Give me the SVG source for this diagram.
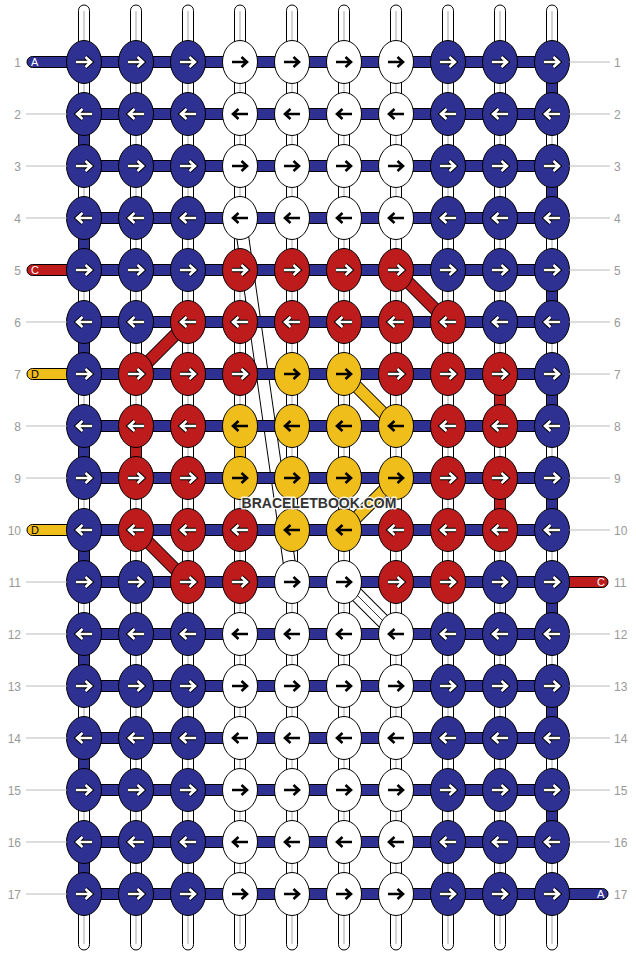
<svg xmlns="http://www.w3.org/2000/svg" xmlns:xlink="http://www.w3.org/1999/xlink" width="636" height="956" viewBox="0 0 636 956">
<style>
.kb{fill:#2e3192;stroke:#000;stroke-width:1}
.kr{fill:#bd1b1c;stroke:#000;stroke-width:1}
.ky{fill:#f0be1a;stroke:#000;stroke-width:1}
.kw{fill:#fff;stroke:#000;stroke-width:1}
.ao{fill:none;stroke:#000;stroke-width:4.6}
.aw{fill:none;stroke:#fff;stroke-width:2.6}
.ab{fill:none;stroke:#000;stroke-width:2.6}
.vs{fill:#fff;stroke:#000;stroke-width:1}
.vc{stroke:#c4c4c4;stroke-width:1.5}
.sb{fill:#2e3192;stroke:#000;stroke-width:1}
.sr{fill:#bd1b1c;stroke:#000;stroke-width:1}
.sy{fill:#f0be1a;stroke:#000;stroke-width:1}
.gl{stroke:#bbb;stroke-width:1}
.num{font-family:"Liberation Sans",Arial,sans-serif;font-size:12px;fill:#999}
.let{font-family:"Liberation Sans",Arial,sans-serif;font-size:11px}
</style>
<defs>
<path id="aR" d="M-8,0H6.5M1.5,-5L7,0L1.5,5"/>
<path id="aL" d="M8,0H-6.5M-1.5,-5L-7,0L-1.5,5"/>
<g id="BR"><ellipse rx="17.5" ry="21.5" class="kb"/><use href="#aR" class="ao"/><use href="#aR" class="aw"/></g>
<g id="BL"><ellipse rx="17.5" ry="21.5" class="kb"/><use href="#aL" class="ao"/><use href="#aL" class="aw"/></g>
<g id="RR"><ellipse rx="17.5" ry="21.5" class="kr"/><use href="#aR" class="ao"/><use href="#aR" class="aw"/></g>
<g id="RL"><ellipse rx="17.5" ry="21.5" class="kr"/><use href="#aL" class="ao"/><use href="#aL" class="aw"/></g>
<g id="YR"><ellipse rx="17.5" ry="21.5" class="ky"/><use href="#aR" class="ab"/></g>
<g id="YL"><ellipse rx="17.5" ry="21.5" class="ky"/><use href="#aL" class="ab"/></g>
<g id="WR"><ellipse rx="17.5" ry="21.5" class="kw"/><use href="#aR" class="ab"/></g>
<g id="WL"><ellipse rx="17.5" ry="21.5" class="kw"/><use href="#aL" class="ab"/></g>
</defs>
<rect width="636" height="956" fill="#fff"/>
<g id="connectors">
<g id="vertical-strands">
<rect x="78.5" y="5" width="11" height="945" rx="5.5" class="vs"/><line x1="84" y1="11" x2="84" y2="944" class="vc"/>
<rect x="130.5" y="5" width="11" height="945" rx="5.5" class="vs"/><line x1="136" y1="11" x2="136" y2="944" class="vc"/>
<rect x="182.5" y="5" width="11" height="945" rx="5.5" class="vs"/><line x1="188" y1="11" x2="188" y2="944" class="vc"/>
<rect x="234.5" y="5" width="11" height="945" rx="5.5" class="vs"/><line x1="240" y1="11" x2="240" y2="944" class="vc"/>
<rect x="286.5" y="5" width="11" height="945" rx="5.5" class="vs"/><line x1="292" y1="11" x2="292" y2="944" class="vc"/>
<rect x="338.5" y="5" width="11" height="945" rx="5.5" class="vs"/><line x1="344" y1="11" x2="344" y2="944" class="vc"/>
<rect x="390.5" y="5" width="11" height="945" rx="5.5" class="vs"/><line x1="396" y1="11" x2="396" y2="944" class="vc"/>
<rect x="442.5" y="5" width="11" height="945" rx="5.5" class="vs"/><line x1="448" y1="11" x2="448" y2="944" class="vc"/>
<rect x="494.5" y="5" width="11" height="945" rx="5.5" class="vs"/><line x1="500" y1="11" x2="500" y2="944" class="vc"/>
<rect x="546.5" y="5" width="11" height="945" rx="5.5" class="vs"/><line x1="552" y1="11" x2="552" y2="944" class="vc"/>
</g>
<g id="vertical-colored">
<rect x="78.5" y="126" width="11" height="28" class="sb"/>
<rect x="78.5" y="230" width="11" height="28" class="sb"/>
<rect x="78.5" y="334" width="11" height="28" class="sb"/>
<rect x="78.5" y="438" width="11" height="28" class="sb"/>
<rect x="78.5" y="542" width="11" height="28" class="sb"/>
<rect x="78.5" y="646" width="11" height="28" class="sb"/>
<rect x="78.5" y="750" width="11" height="28" class="sb"/>
<rect x="78.5" y="854" width="11" height="28" class="sb"/>
<rect x="546.5" y="74" width="11" height="28" class="sb"/>
<rect x="546.5" y="178" width="11" height="28" class="sb"/>
<rect x="546.5" y="282" width="11" height="28" class="sb"/>
<rect x="546.5" y="386" width="11" height="28" class="sb"/>
<rect x="546.5" y="490" width="11" height="28" class="sb"/>
<rect x="546.5" y="594" width="11" height="28" class="sb"/>
<rect x="546.5" y="698" width="11" height="28" class="sb"/>
<rect x="546.5" y="802" width="11" height="28" class="sb"/>
<rect x="130.5" y="438" width="11" height="28" class="sr"/>
<rect x="494.5" y="386" width="11" height="28" class="sr"/>
<rect x="494.5" y="490" width="11" height="28" class="sr"/>
<rect x="234.5" y="438" width="11" height="28" class="sy"/>
</g>
<g id="diagonals">
<line x1="240" y1="218" x2="292" y2="582" stroke="#000" stroke-width="13"/>
<line x1="240" y1="218" x2="292" y2="582" stroke="#fff" stroke-width="11"/>
<line x1="344" y1="582" x2="396" y2="634" stroke="#000" stroke-width="15"/>
<line x1="344" y1="582" x2="396" y2="634" stroke="#fff" stroke-width="13"/>
<line x1="344" y1="582" x2="396" y2="634" stroke="#000" stroke-width="0.8"/>
<line x1="396" y1="270" x2="448" y2="322" stroke="#000" stroke-width="13"/>
<line x1="396" y1="270" x2="448" y2="322" stroke="#bd1b1c" stroke-width="11"/>
<line x1="188" y1="322" x2="136" y2="374" stroke="#000" stroke-width="13"/>
<line x1="188" y1="322" x2="136" y2="374" stroke="#bd1b1c" stroke-width="11"/>
<line x1="136" y1="530" x2="188" y2="582" stroke="#000" stroke-width="13"/>
<line x1="136" y1="530" x2="188" y2="582" stroke="#bd1b1c" stroke-width="11"/>
<line x1="344" y1="374" x2="396" y2="426" stroke="#000" stroke-width="13"/>
<line x1="344" y1="374" x2="396" y2="426" stroke="#f0be1a" stroke-width="11"/>
<line x1="396" y1="478" x2="344" y2="530" stroke="#000" stroke-width="13"/>
<line x1="396" y1="478" x2="344" y2="530" stroke="#f0be1a" stroke-width="11"/>
</g>
<g id="horizontal-strands">
<rect x="27" y="56.5" width="62" height="11" rx="5.5" class="sb"/>
<rect x="27" y="264.5" width="62" height="11" rx="5.5" class="sr"/>
<rect x="27" y="368.5" width="62" height="11" rx="5.5" class="sy"/>
<rect x="27" y="524.5" width="62" height="11" rx="5.5" class="sy"/>
<rect x="547" y="576.5" width="61" height="11" rx="5.5" class="sr"/>
<rect x="547" y="888.5" width="61" height="11" rx="5.5" class="sb"/>
<rect x="84" y="56.5" width="468" height="11" class="sb"/>
<rect x="84" y="108.5" width="468" height="11" class="sb"/>
<rect x="84" y="160.5" width="468" height="11" class="sb"/>
<rect x="84" y="212.5" width="468" height="11" class="sb"/>
<rect x="84" y="264.5" width="468" height="11" class="sb"/>
<rect x="84" y="316.5" width="468" height="11" class="sb"/>
<rect x="84" y="368.5" width="468" height="11" class="sb"/>
<rect x="84" y="420.5" width="468" height="11" class="sb"/>
<rect x="84" y="472.5" width="468" height="11" class="sb"/>
<rect x="84" y="524.5" width="468" height="11" class="sb"/>
<rect x="84" y="576.5" width="468" height="11" class="sb"/>
<rect x="84" y="628.5" width="468" height="11" class="sb"/>
<rect x="84" y="680.5" width="468" height="11" class="sb"/>
<rect x="84" y="732.5" width="468" height="11" class="sb"/>
<rect x="84" y="784.5" width="468" height="11" class="sb"/>
<rect x="84" y="836.5" width="468" height="11" class="sb"/>
<rect x="84" y="888.5" width="468" height="11" class="sb"/>
</g>
</g>
<g id="knots">
<g id="k1-1"><use href="#BR" x="84" y="62"/></g><g id="k1-2"><use href="#BR" x="136" y="62"/></g><g id="k1-3"><use href="#BR" x="188" y="62"/></g><g id="k1-4"><use href="#WR" x="240" y="62"/></g><g id="k1-5"><use href="#WR" x="292" y="62"/></g><g id="k1-6"><use href="#WR" x="344" y="62"/></g><g id="k1-7"><use href="#WR" x="396" y="62"/></g><g id="k1-8"><use href="#BR" x="448" y="62"/></g><g id="k1-9"><use href="#BR" x="500" y="62"/></g><g id="k1-10"><use href="#BR" x="552" y="62"/></g>
<g id="k2-1"><use href="#BL" x="84" y="114"/></g><g id="k2-2"><use href="#BL" x="136" y="114"/></g><g id="k2-3"><use href="#BL" x="188" y="114"/></g><g id="k2-4"><use href="#WL" x="240" y="114"/></g><g id="k2-5"><use href="#WL" x="292" y="114"/></g><g id="k2-6"><use href="#WL" x="344" y="114"/></g><g id="k2-7"><use href="#WL" x="396" y="114"/></g><g id="k2-8"><use href="#BL" x="448" y="114"/></g><g id="k2-9"><use href="#BL" x="500" y="114"/></g><g id="k2-10"><use href="#BL" x="552" y="114"/></g>
<g id="k3-1"><use href="#BR" x="84" y="166"/></g><g id="k3-2"><use href="#BR" x="136" y="166"/></g><g id="k3-3"><use href="#BR" x="188" y="166"/></g><g id="k3-4"><use href="#WR" x="240" y="166"/></g><g id="k3-5"><use href="#WR" x="292" y="166"/></g><g id="k3-6"><use href="#WR" x="344" y="166"/></g><g id="k3-7"><use href="#WR" x="396" y="166"/></g><g id="k3-8"><use href="#BR" x="448" y="166"/></g><g id="k3-9"><use href="#BR" x="500" y="166"/></g><g id="k3-10"><use href="#BR" x="552" y="166"/></g>
<g id="k4-1"><use href="#BL" x="84" y="218"/></g><g id="k4-2"><use href="#BL" x="136" y="218"/></g><g id="k4-3"><use href="#BL" x="188" y="218"/></g><g id="k4-4"><use href="#WL" x="240" y="218"/></g><g id="k4-5"><use href="#WL" x="292" y="218"/></g><g id="k4-6"><use href="#WL" x="344" y="218"/></g><g id="k4-7"><use href="#WL" x="396" y="218"/></g><g id="k4-8"><use href="#BL" x="448" y="218"/></g><g id="k4-9"><use href="#BL" x="500" y="218"/></g><g id="k4-10"><use href="#BL" x="552" y="218"/></g>
<g id="k5-1"><use href="#BR" x="84" y="270"/></g><g id="k5-2"><use href="#BR" x="136" y="270"/></g><g id="k5-3"><use href="#BR" x="188" y="270"/></g><g id="k5-4"><use href="#RR" x="240" y="270"/></g><g id="k5-5"><use href="#RR" x="292" y="270"/></g><g id="k5-6"><use href="#RR" x="344" y="270"/></g><g id="k5-7"><use href="#RR" x="396" y="270"/></g><g id="k5-8"><use href="#BR" x="448" y="270"/></g><g id="k5-9"><use href="#BR" x="500" y="270"/></g><g id="k5-10"><use href="#BR" x="552" y="270"/></g>
<g id="k6-1"><use href="#BL" x="84" y="322"/></g><g id="k6-2"><use href="#BL" x="136" y="322"/></g><g id="k6-3"><use href="#RL" x="188" y="322"/></g><g id="k6-4"><use href="#RL" x="240" y="322"/></g><g id="k6-5"><use href="#RL" x="292" y="322"/></g><g id="k6-6"><use href="#RL" x="344" y="322"/></g><g id="k6-7"><use href="#RL" x="396" y="322"/></g><g id="k6-8"><use href="#RL" x="448" y="322"/></g><g id="k6-9"><use href="#BL" x="500" y="322"/></g><g id="k6-10"><use href="#BL" x="552" y="322"/></g>
<g id="k7-1"><use href="#BR" x="84" y="374"/></g><g id="k7-2"><use href="#RR" x="136" y="374"/></g><g id="k7-3"><use href="#RR" x="188" y="374"/></g><g id="k7-4"><use href="#RR" x="240" y="374"/></g><g id="k7-5"><use href="#YR" x="292" y="374"/></g><g id="k7-6"><use href="#YR" x="344" y="374"/></g><g id="k7-7"><use href="#RR" x="396" y="374"/></g><g id="k7-8"><use href="#RR" x="448" y="374"/></g><g id="k7-9"><use href="#RR" x="500" y="374"/></g><g id="k7-10"><use href="#BR" x="552" y="374"/></g>
<g id="k8-1"><use href="#BL" x="84" y="426"/></g><g id="k8-2"><use href="#RL" x="136" y="426"/></g><g id="k8-3"><use href="#RL" x="188" y="426"/></g><g id="k8-4"><use href="#YL" x="240" y="426"/></g><g id="k8-5"><use href="#YL" x="292" y="426"/></g><g id="k8-6"><use href="#YL" x="344" y="426"/></g><g id="k8-7"><use href="#YL" x="396" y="426"/></g><g id="k8-8"><use href="#RL" x="448" y="426"/></g><g id="k8-9"><use href="#RL" x="500" y="426"/></g><g id="k8-10"><use href="#BL" x="552" y="426"/></g>
<g id="k9-1"><use href="#BR" x="84" y="478"/></g><g id="k9-2"><use href="#RR" x="136" y="478"/></g><g id="k9-3"><use href="#RR" x="188" y="478"/></g><g id="k9-4"><use href="#YR" x="240" y="478"/></g><g id="k9-5"><use href="#YR" x="292" y="478"/></g><g id="k9-6"><use href="#YR" x="344" y="478"/></g><g id="k9-7"><use href="#YR" x="396" y="478"/></g><g id="k9-8"><use href="#RR" x="448" y="478"/></g><g id="k9-9"><use href="#RR" x="500" y="478"/></g><g id="k9-10"><use href="#BR" x="552" y="478"/></g>
<g id="k10-1"><use href="#BL" x="84" y="530"/></g><g id="k10-2"><use href="#RL" x="136" y="530"/></g><g id="k10-3"><use href="#RL" x="188" y="530"/></g><g id="k10-4"><use href="#RL" x="240" y="530"/></g><g id="k10-5"><use href="#YL" x="292" y="530"/></g><g id="k10-6"><use href="#YL" x="344" y="530"/></g><g id="k10-7"><use href="#RL" x="396" y="530"/></g><g id="k10-8"><use href="#RL" x="448" y="530"/></g><g id="k10-9"><use href="#RL" x="500" y="530"/></g><g id="k10-10"><use href="#BL" x="552" y="530"/></g>
<g id="k11-1"><use href="#BR" x="84" y="582"/></g><g id="k11-2"><use href="#BR" x="136" y="582"/></g><g id="k11-3"><use href="#RR" x="188" y="582"/></g><g id="k11-4"><use href="#RR" x="240" y="582"/></g><g id="k11-5"><use href="#WR" x="292" y="582"/></g><g id="k11-6"><use href="#WR" x="344" y="582"/></g><g id="k11-7"><use href="#RR" x="396" y="582"/></g><g id="k11-8"><use href="#RR" x="448" y="582"/></g><g id="k11-9"><use href="#BR" x="500" y="582"/></g><g id="k11-10"><use href="#BR" x="552" y="582"/></g>
<g id="k12-1"><use href="#BL" x="84" y="634"/></g><g id="k12-2"><use href="#BL" x="136" y="634"/></g><g id="k12-3"><use href="#BL" x="188" y="634"/></g><g id="k12-4"><use href="#WL" x="240" y="634"/></g><g id="k12-5"><use href="#WL" x="292" y="634"/></g><g id="k12-6"><use href="#WL" x="344" y="634"/></g><g id="k12-7"><use href="#WL" x="396" y="634"/></g><g id="k12-8"><use href="#BL" x="448" y="634"/></g><g id="k12-9"><use href="#BL" x="500" y="634"/></g><g id="k12-10"><use href="#BL" x="552" y="634"/></g>
<g id="k13-1"><use href="#BR" x="84" y="686"/></g><g id="k13-2"><use href="#BR" x="136" y="686"/></g><g id="k13-3"><use href="#BR" x="188" y="686"/></g><g id="k13-4"><use href="#WR" x="240" y="686"/></g><g id="k13-5"><use href="#WR" x="292" y="686"/></g><g id="k13-6"><use href="#WR" x="344" y="686"/></g><g id="k13-7"><use href="#WR" x="396" y="686"/></g><g id="k13-8"><use href="#BR" x="448" y="686"/></g><g id="k13-9"><use href="#BR" x="500" y="686"/></g><g id="k13-10"><use href="#BR" x="552" y="686"/></g>
<g id="k14-1"><use href="#BL" x="84" y="738"/></g><g id="k14-2"><use href="#BL" x="136" y="738"/></g><g id="k14-3"><use href="#BL" x="188" y="738"/></g><g id="k14-4"><use href="#WL" x="240" y="738"/></g><g id="k14-5"><use href="#WL" x="292" y="738"/></g><g id="k14-6"><use href="#WL" x="344" y="738"/></g><g id="k14-7"><use href="#WL" x="396" y="738"/></g><g id="k14-8"><use href="#BL" x="448" y="738"/></g><g id="k14-9"><use href="#BL" x="500" y="738"/></g><g id="k14-10"><use href="#BL" x="552" y="738"/></g>
<g id="k15-1"><use href="#BR" x="84" y="790"/></g><g id="k15-2"><use href="#BR" x="136" y="790"/></g><g id="k15-3"><use href="#BR" x="188" y="790"/></g><g id="k15-4"><use href="#WR" x="240" y="790"/></g><g id="k15-5"><use href="#WR" x="292" y="790"/></g><g id="k15-6"><use href="#WR" x="344" y="790"/></g><g id="k15-7"><use href="#WR" x="396" y="790"/></g><g id="k15-8"><use href="#BR" x="448" y="790"/></g><g id="k15-9"><use href="#BR" x="500" y="790"/></g><g id="k15-10"><use href="#BR" x="552" y="790"/></g>
<g id="k16-1"><use href="#BL" x="84" y="842"/></g><g id="k16-2"><use href="#BL" x="136" y="842"/></g><g id="k16-3"><use href="#BL" x="188" y="842"/></g><g id="k16-4"><use href="#WL" x="240" y="842"/></g><g id="k16-5"><use href="#WL" x="292" y="842"/></g><g id="k16-6"><use href="#WL" x="344" y="842"/></g><g id="k16-7"><use href="#WL" x="396" y="842"/></g><g id="k16-8"><use href="#BL" x="448" y="842"/></g><g id="k16-9"><use href="#BL" x="500" y="842"/></g><g id="k16-10"><use href="#BL" x="552" y="842"/></g>
<g id="k17-1"><use href="#BR" x="84" y="894"/></g><g id="k17-2"><use href="#BR" x="136" y="894"/></g><g id="k17-3"><use href="#BR" x="188" y="894"/></g><g id="k17-4"><use href="#WR" x="240" y="894"/></g><g id="k17-5"><use href="#WR" x="292" y="894"/></g><g id="k17-6"><use href="#WR" x="344" y="894"/></g><g id="k17-7"><use href="#WR" x="396" y="894"/></g><g id="k17-8"><use href="#BR" x="448" y="894"/></g><g id="k17-9"><use href="#BR" x="500" y="894"/></g><g id="k17-10"><use href="#BR" x="552" y="894"/></g>
</g>
<g id="row-guides">
<line x1="26" y1="114" x2="67" y2="114" class="gl"/><line x1="26" y1="166" x2="67" y2="166" class="gl"/><line x1="26" y1="218" x2="67" y2="218" class="gl"/><line x1="26" y1="322" x2="67" y2="322" class="gl"/><line x1="26" y1="426" x2="67" y2="426" class="gl"/><line x1="26" y1="478" x2="67" y2="478" class="gl"/><line x1="26" y1="582" x2="67" y2="582" class="gl"/><line x1="26" y1="634" x2="67" y2="634" class="gl"/><line x1="26" y1="686" x2="67" y2="686" class="gl"/><line x1="26" y1="738" x2="67" y2="738" class="gl"/><line x1="26" y1="790" x2="67" y2="790" class="gl"/><line x1="26" y1="842" x2="67" y2="842" class="gl"/><line x1="26" y1="894" x2="67" y2="894" class="gl"/>
<line x1="569" y1="62" x2="610" y2="62" class="gl"/><line x1="569" y1="114" x2="610" y2="114" class="gl"/><line x1="569" y1="166" x2="610" y2="166" class="gl"/><line x1="569" y1="218" x2="610" y2="218" class="gl"/><line x1="569" y1="270" x2="610" y2="270" class="gl"/><line x1="569" y1="322" x2="610" y2="322" class="gl"/><line x1="569" y1="374" x2="610" y2="374" class="gl"/><line x1="569" y1="426" x2="610" y2="426" class="gl"/><line x1="569" y1="478" x2="610" y2="478" class="gl"/><line x1="569" y1="530" x2="610" y2="530" class="gl"/><line x1="569" y1="634" x2="610" y2="634" class="gl"/><line x1="569" y1="686" x2="610" y2="686" class="gl"/><line x1="569" y1="738" x2="610" y2="738" class="gl"/><line x1="569" y1="790" x2="610" y2="790" class="gl"/><line x1="569" y1="842" x2="610" y2="842" class="gl"/>
</g>
<g id="row-numbers-left" class="num" text-anchor="end">
<text x="21" y="66.5">1</text><text x="21" y="118.5">2</text><text x="21" y="170.5">3</text><text x="21" y="222.5">4</text><text x="21" y="274.5">5</text><text x="21" y="326.5">6</text><text x="21" y="378.5">7</text><text x="21" y="430.5">8</text><text x="21" y="482.5">9</text><text x="21" y="534.5">10</text><text x="21" y="586.5">11</text><text x="21" y="638.5">12</text><text x="21" y="690.5">13</text><text x="21" y="742.5">14</text><text x="21" y="794.5">15</text><text x="21" y="846.5">16</text><text x="21" y="898.5">17</text>
</g>
<g id="row-numbers-right" class="num">
<text x="614" y="66.5">1</text><text x="614" y="118.5">2</text><text x="614" y="170.5">3</text><text x="614" y="222.5">4</text><text x="614" y="274.5">5</text><text x="614" y="326.5">6</text><text x="614" y="378.5">7</text><text x="614" y="430.5">8</text><text x="614" y="482.5">9</text><text x="614" y="534.5">10</text><text x="614" y="586.5">11</text><text x="614" y="638.5">12</text><text x="614" y="690.5">13</text><text x="614" y="742.5">14</text><text x="614" y="794.5">15</text><text x="614" y="846.5">16</text><text x="614" y="898.5">17</text>
</g>
<g id="strand-letters" class="let">
<text x="31" y="66" fill="#fff">A</text>
<text x="31" y="274" fill="#fff">C</text>
<text x="31" y="378" fill="#000">D</text>
<text x="31" y="534" fill="#000">D</text>
<text x="597" y="586" fill="#fff">C</text>
<text x="597" y="898" fill="#fff">A</text>
</g>
<text x="319" y="508" text-anchor="middle" font-family="Liberation Sans, Arial, sans-serif" font-weight="bold" font-size="14" fill="#333" stroke="#fff" stroke-opacity="0.85" stroke-width="3" stroke-linejoin="round" paint-order="stroke">BRACELETBOOK.COM</text>
</svg>
